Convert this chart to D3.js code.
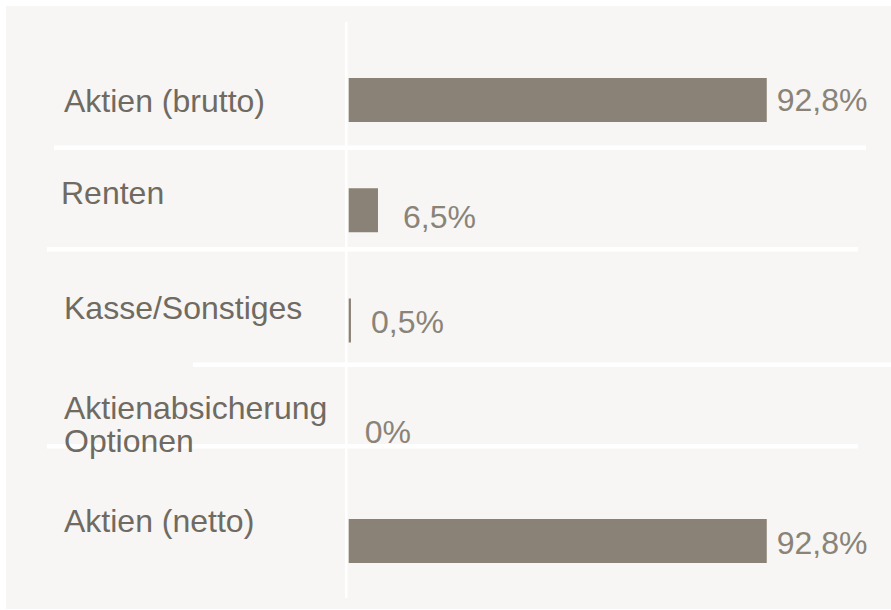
<!DOCTYPE html>
<html>
<head>
<meta charset="utf-8">
<script src="https://cdn.jsdelivr.net/npm/d3@7"></script>
<style>
  html, body { margin: 0; padding: 0; background: #ffffff; }
  svg { display: block; }
  text { font-family: "Liberation Sans", Arial, Helvetica, sans-serif; }
</style>
</head>
<body>
<svg id="chart" width="891" height="610"></svg>
<script>
// ---- data ----
const categories = ["Aktien (brutto)", "Renten", "Kasse/Sonstiges", "Aktienabsicherung\nOptionen", "Aktien (netto)"];
const values = [92.8, 6.5, 0.5, 0, 92.8];
const valueLabels = ["92,8%", "6,5%", "0,5%", "0%", "92,8%"];

// ---- layout (styling, not data) ----
const W = 891, H = 610;
const labelDy = [33.5, 16, 20, 10.5, 13];     // category label baseline offset from bar top
const valueDy = [32.5, 40, 34, 34, 35];       // value label baseline offset from bar top
const separators = [                          // white divider rules
  { y: 145.5, x0: 54, x1: 866 },
  { y: 247, x0: 47, x1: 858 },
  { y: 362.5, x0: 193, x1: 891 },
  { y: 444, x0: 47, x1: 858 }
];

const svg = d3.select("#chart");

// panel background
svg.append("rect").attr("x", 6).attr("y", 6).attr("width", W - 6).attr("height", H - 7)
  .attr("fill", "#f7f6f4");

const x = d3.scaleLinear().domain([0, 100]).range([348.7, 799.2]);
const y = d3.scaleBand().domain(categories).range([78, 563]).paddingInner(1 - 44 / 110.25).paddingOuter(0);

// vertical axis rule
svg.append("rect").attr("x", x(0) - 3.7).attr("y", 22).attr("width", 2.5).attr("height", 576)
  .attr("fill", "#ffffff");

// separators
svg.selectAll("rect.sep").data(separators).join("rect").attr("class", "sep")
  .attr("x", d => d.x0).attr("y", d => d.y).attr("width", d => d.x1 - d.x0).attr("height", 4.5)
  .attr("fill", "#ffffff");

// bars
svg.selectAll("rect.bar").data(categories).join("rect").attr("class", "bar")
  .attr("x", x(0))
  .attr("y", d => y(d))
  .attr("width", (d, i) => x(values[i]) - x(0))
  .attr("height", y.bandwidth())
  .attr("fill", "#8a8276");

// category labels
categories.forEach((c, i) => {
  const lines = c.split("\n");
  const t = svg.append("text")
    .attr("x", i === 1 ? 61 : 64)
    .attr("y", y(c) + labelDy[i])
    .attr("font-size", 32)
    .attr("fill", "#6f6a62");
  if (lines.length === 1) {
    t.text(c);
  } else {
    lines.forEach((ln, k) => {
      t.append("tspan").attr("x", 64).attr("dy", k === 0 ? 0 : 33).text(ln);
    });
  }
});

// value labels
svg.selectAll("text.val").data(categories).join("text").attr("class", "val")
  .attr("x", (d, i) => x(values[i]) + (values[i] === 0 ? 16 : (values[i] < 1 ? 20 : (values[i] < 10 ? 25 : 10))))
  .attr("y", (d, i) => y(d) + valueDy[i])
  .attr("font-size", 32)
  .attr("fill", "#8a8378")
  .text((d, i) => valueLabels[i]);
</script>
</body>
</html>
